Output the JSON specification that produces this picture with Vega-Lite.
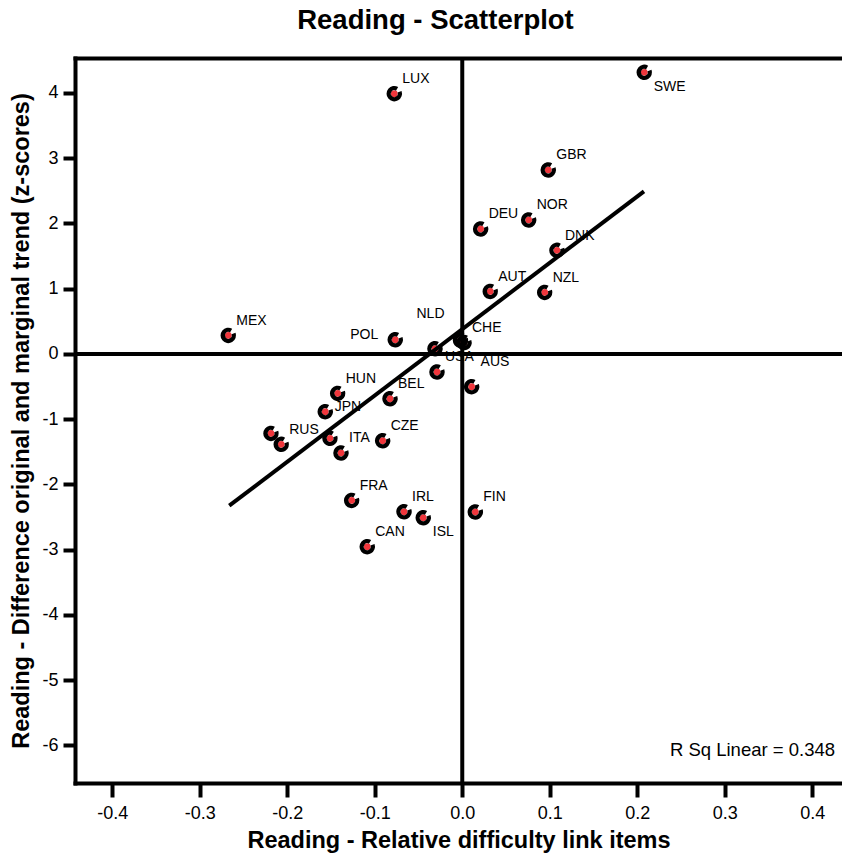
{
  "$schema": "https://vega.github.io/schema/vega-lite/v6.json",
  "width": 767,
  "height": 725,
  "autosize": {"type": "none"},
  "padding": {"left": 75, "top": 58, "right": 0, "bottom": 75},
  "background": "white",
  "config": {
    "view": {"stroke": null},
    "font": "Liberation Sans",
    "locale": {"number": {"decimal": ".", "thousands": ",", "grouping": [3], "currency": ["$", ""], "minus": "-"}},
    "axis": {
      "domainColor": "black", "domainWidth": 4, "domainCap": "square",
      "tickColor": "black", "tickWidth": 4, "labelColor": "black",
      "labelFont": "Liberation Sans", "labelFontSize": 18,
      "titleFont": "Liberation Sans", "titleFontSize": 23.5, "titleFontWeight": "bold", "titleColor": "black",
      "grid": false
    }
  },
  "title": {
    "text": "Reading - Scatterplot",
    "font": "Liberation Sans", "fontSize": 27.5, "fontWeight": "bold", "color": "black",
    "anchor": "middle", "dx": -23, "offset": 22
  },
  "datasets": {
    "countries": [
      {"country": "LUX", "x": -0.0777, "y": 3.99, "pos": "ur"},
      {"country": "SWE", "x": 0.208, "y": 4.316, "pos": "lr"},
      {"country": "GBR", "x": 0.0983, "y": 2.82, "pos": "ur"},
      {"country": "DEU", "x": 0.021, "y": 1.916, "pos": "ur"},
      {"country": "NOR", "x": 0.0759, "y": 2.054, "pos": "ur"},
      {"country": "DNK", "x": 0.1082, "y": 1.588, "pos": "ur"},
      {"country": "AUT", "x": 0.032, "y": 0.959, "pos": "ur"},
      {"country": "NZL", "x": 0.0942, "y": 0.944, "pos": "ur"},
      {"country": "MEX", "x": -0.2674, "y": 0.285, "pos": "ur"},
      {"country": "POL", "x": -0.0766, "y": 0.219, "pos": "l"},
      {"country": "NLD", "x": -0.002, "y": 0.21, "pos": "ul"},
      {"country": "CHE", "x": 0.002, "y": 0.175, "pos": "ur"},
      {"country": "", "x": -0.0312, "y": 0.081, "pos": "none"},
      {"country": "USA", "x": -0.0289, "y": -0.276, "pos": "ur"},
      {"country": "AUS", "x": 0.0107, "y": -0.501, "pos": "uu"},
      {"country": "HUN", "x": -0.1424, "y": -0.604, "pos": "ur"},
      {"country": "BEL", "x": -0.0826, "y": -0.685, "pos": "ur"},
      {"country": "JPN", "x": -0.1566, "y": -0.884, "pos": "r"},
      {"country": "", "x": -0.2186, "y": -1.217, "pos": "none"},
      {"country": "RUS", "x": -0.2069, "y": -1.385, "pos": "ur"},
      {"country": "", "x": -0.1512, "y": -1.293, "pos": "none"},
      {"country": "ITA", "x": -0.1386, "y": -1.517, "pos": "ur"},
      {"country": "CZE", "x": -0.091, "y": -1.329, "pos": "ur"},
      {"country": "FRA", "x": -0.1264, "y": -2.244, "pos": "ur"},
      {"country": "IRL", "x": -0.0666, "y": -2.417, "pos": "ur"},
      {"country": "ISL", "x": -0.0446, "y": -2.509, "pos": "lr"},
      {"country": "CAN", "x": -0.1086, "y": -2.953, "pos": "ur"},
      {"country": "FIN", "x": 0.0149, "y": -2.421, "pos": "ur"}
    ],
    "fit": [
      {"x": -0.2663, "y": -2.325},
      {"x": 0.2077, "y": 2.492}
    ],
    "note": [
      {"x": 0.426, "y": -6.075, "text": "R Sq Linear = 0.348"}
    ]
  },
  "resolve": {"axis": {"x": "independent"}},
  "layer": [
    {
      "data": {"name": "countries"},
      "mark": {"type": "point", "shape": "circle", "filled": true, "fill": "#f0363c", "stroke": null, "size": 46, "opacity": 1},
      "encoding": {
        "x": {"field": "x", "type": "quantitative", "scale": {"domain": [-0.4426, 0.434], "nice": false, "zero": false},
          "axis": {"orient": "bottom", "values": [-0.4, -0.3, -0.2, -0.1, 0, 0.1, 0.2, 0.3, 0.4], "format": ".1f",
            "tickSize": 14, "labelPadding": 7, "title": "Reading - Relative difficulty link items", "titlePadding": 6}},
        "y": {"field": "y", "type": "quantitative", "scale": {"domain": [-6.575, 4.536], "nice": false, "zero": false},
          "axis": {"values": [-6, -5, -4, -3, -2, -1, 0, 1, 2, 3, 4], "format": "d", "tickSize": 12, "labelPadding": 5,
            "title": "Reading - Difference original and marginal trend (z-scores)", "titlePadding": 8}}
      }
    },
    {
      "data": {"name": "countries"},
      "mark": {"type": "point", "shape": "M 0.5 -0.866 A 1 1 0 1 0 0.94 -0.342", "filled": false, "stroke": "black", "strokeWidth": 4.3, "size": 125, "opacity": 1},
      "encoding": {
        "x": {"field": "x", "type": "quantitative", "axis": null},
        "y": {"field": "y", "type": "quantitative"}
      }
    },
    {
      "data": {"name": "countries"},
      "transform": [{"filter": "datum.pos == 'ur'"}],
      "mark": {"type": "text", "align": "left", "baseline": "middle", "dx": 8, "dy": -14.6, "fontSize": 14, "font": "Liberation Sans", "color": "black"},
      "encoding": {
        "x": {"field": "x", "type": "quantitative", "axis": null},
        "y": {"field": "y", "type": "quantitative"},
        "text": {"field": "country"}
      }
    },
    {
      "data": {"name": "countries"},
      "transform": [{"filter": "datum.pos == 'lr'"}],
      "mark": {"type": "text", "align": "left", "baseline": "middle", "dx": 9.5, "dy": 14.6, "fontSize": 14, "font": "Liberation Sans", "color": "black"},
      "encoding": {
        "x": {"field": "x", "type": "quantitative", "axis": null},
        "y": {"field": "y", "type": "quantitative"},
        "text": {"field": "country"}
      }
    },
    {
      "data": {"name": "countries"},
      "transform": [{"filter": "datum.pos == 'l'"}],
      "mark": {"type": "text", "align": "right", "baseline": "middle", "dx": -17, "dy": -5, "fontSize": 14, "font": "Liberation Sans", "color": "black"},
      "encoding": {
        "x": {"field": "x", "type": "quantitative", "axis": null},
        "y": {"field": "y", "type": "quantitative"},
        "text": {"field": "country"}
      }
    },
    {
      "data": {"name": "countries"},
      "transform": [{"filter": "datum.pos == 'ul'"}],
      "mark": {"type": "text", "align": "right", "baseline": "middle", "dx": -16, "dy": -26, "fontSize": 14, "font": "Liberation Sans", "color": "black"},
      "encoding": {
        "x": {"field": "x", "type": "quantitative", "axis": null},
        "y": {"field": "y", "type": "quantitative"},
        "text": {"field": "country"}
      }
    },
    {
      "data": {"name": "countries"},
      "transform": [{"filter": "datum.pos == 'r'"}],
      "mark": {"type": "text", "align": "left", "baseline": "middle", "dx": 9.5, "dy": -5, "fontSize": 14, "font": "Liberation Sans", "color": "black"},
      "encoding": {
        "x": {"field": "x", "type": "quantitative", "axis": null},
        "y": {"field": "y", "type": "quantitative"},
        "text": {"field": "country"}
      }
    },
    {
      "data": {"name": "countries"},
      "transform": [{"filter": "datum.pos == 'uu'"}],
      "mark": {"type": "text", "align": "left", "baseline": "middle", "dx": 9, "dy": -25, "fontSize": 14, "font": "Liberation Sans", "color": "black"},
      "encoding": {
        "x": {"field": "x", "type": "quantitative", "axis": null},
        "y": {"field": "y", "type": "quantitative"},
        "text": {"field": "country"}
      }
    },
    {
      "data": {"name": "note"},
      "mark": {"type": "text", "align": "right", "baseline": "middle", "fontSize": 18.5, "font": "Liberation Sans", "color": "black"},
      "encoding": {
        "x": {"field": "x", "type": "quantitative", "axis": null},
        "y": {"field": "y", "type": "quantitative"},
        "text": {"field": "text"}
      }
    },
    {
      "data": {"values": [{"z": 0}]},
      "mark": {"type": "rule", "color": "black", "strokeWidth": 4},
      "encoding": {
        "y": {"field": "z", "type": "quantitative"}
      }
    },
    {
      "data": {"values": [{"z": 0}]},
      "mark": {"type": "rule", "color": "black", "strokeWidth": 4},
      "encoding": {
        "x": {"field": "z", "type": "quantitative",
          "axis": {"orient": "top", "labels": false, "ticks": false, "title": null, "domain": true}}
      }
    },
    {
      "data": {"name": "fit"},
      "mark": {"type": "line", "color": "black", "strokeWidth": 4, "strokeCap": "butt"},
      "encoding": {
        "x": {"field": "x", "type": "quantitative", "axis": null},
        "y": {"field": "y", "type": "quantitative"}
      }
    }
  ]
}
